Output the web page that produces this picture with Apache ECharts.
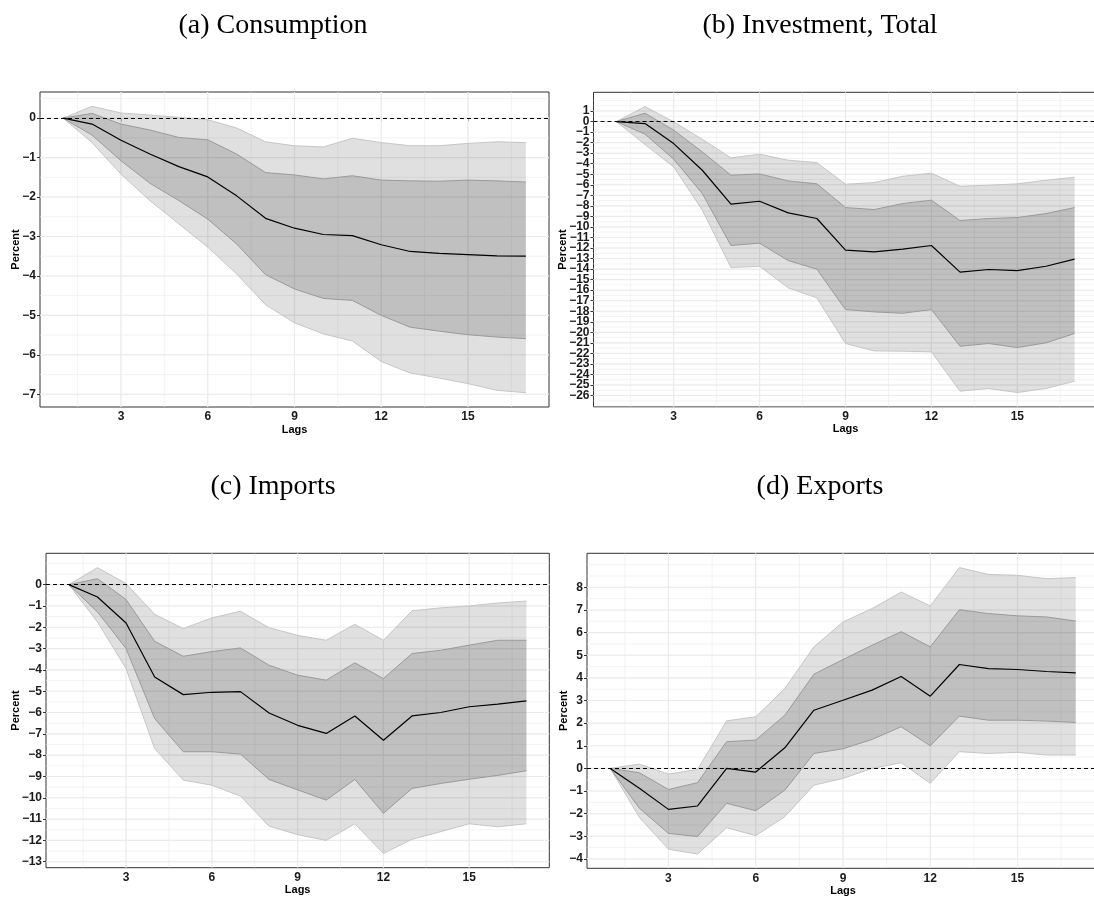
<!DOCTYPE html>
<html><head><meta charset="utf-8">
<script src="https://cdn.jsdelivr.net/npm/echarts@6/dist/echarts.min.js"></script>
<style>html,body{margin:0;padding:0;background:#fff}#c{width:1094px;height:900px}</style>
</head><body><div id="c"></div>
<script>
// ---------- data ----------
const lags = [1,2,3,4,5,6,7,8,9,10,11,12,13,14,15,16,17];
const lagTicks = [3,6,9,12,15];

const titles = ['(a) Consumption', '(b) Investment, Total', '(c) Imports', '(d) Exports'];

const consMean    = [0,-0.15,-0.56,-0.91,-1.23,-1.49,-1.97,-2.54,-2.79,-2.95,-2.98,-3.21,-3.38,-3.43,-3.46,-3.49,-3.50];
const consInnerUp = [0,0.12,-0.15,-0.30,-0.49,-0.55,-0.91,-1.38,-1.44,-1.54,-1.46,-1.57,-1.59,-1.60,-1.57,-1.59,-1.62];
const consInnerLo = [0,-0.43,-1.08,-1.65,-2.09,-2.56,-3.19,-3.97,-4.33,-4.57,-4.62,-5.00,-5.30,-5.40,-5.49,-5.55,-5.59];
const consOuterUp = [0,0.30,0.13,0.08,0.02,-0.04,-0.25,-0.60,-0.70,-0.73,-0.51,-0.62,-0.70,-0.70,-0.64,-0.60,-0.62];
const consOuterLo = [0,-0.62,-1.42,-2.09,-2.68,-3.27,-3.95,-4.73,-5.19,-5.47,-5.65,-6.17,-6.46,-6.59,-6.73,-6.90,-6.96];
const consTicks   = [-7,-6,-5,-4,-3,-2,-1,0];

const invMean    = [0,-0.19,-2.09,-4.62,-7.84,-7.56,-8.67,-9.20,-12.20,-12.37,-12.11,-11.76,-14.29,-14.04,-14.14,-13.73,-13.06];
const invInnerUp = [0,0.79,-0.82,-2.88,-5.09,-4.97,-5.63,-5.91,-8.16,-8.35,-7.78,-7.46,-9.39,-9.20,-9.11,-8.73,-8.16];
const invInnerLo = [0,-1.20,-3.57,-6.83,-11.76,-11.54,-13.19,-14.01,-17.84,-18.06,-18.19,-17.84,-21.32,-21.06,-21.44,-21.00,-20.11];
const invOuterUp = [0,1.42,-0.03,-1.68,-3.45,-3.10,-3.67,-3.89,-5.95,-5.79,-5.19,-4.90,-6.14,-6.04,-5.91,-5.57,-5.28];
const invOuterLo = [0,-2.18,-4.30,-8.41,-13.85,-13.73,-15.78,-16.73,-21.06,-21.76,-21.79,-21.85,-25.58,-25.33,-25.71,-25.33,-24.64];
const invTicks   = [-26,-25,-24,-23,-22,-21,-20,-19,-18,-17,-16,-15,-14,-13,-12,-11,-10,-9,-8,-7,-6,-5,-4,-3,-2,-1,0,1];

const impMean    = [0,-0.58,-1.80,-4.33,-5.16,-5.05,-5.02,-6.02,-6.60,-6.98,-6.16,-7.30,-6.16,-6.00,-5.73,-5.61,-5.45];
const impInnerUp = [0,0.28,-0.70,-2.66,-3.36,-3.14,-2.97,-3.78,-4.25,-4.48,-3.67,-4.41,-3.23,-3.08,-2.84,-2.61,-2.61];
const impInnerLo = [0,-1.28,-3.00,-6.28,-7.84,-7.84,-7.95,-9.14,-9.63,-10.11,-9.14,-10.73,-9.56,-9.33,-9.13,-8.95,-8.73];
const impOuterUp = [0,0.80,0.05,-1.39,-2.06,-1.56,-1.25,-2.02,-2.38,-2.61,-1.86,-2.61,-1.23,-1.09,-1.00,-0.86,-0.77];
const impOuterLo = [0,-1.75,-3.94,-7.69,-9.17,-9.41,-9.92,-11.33,-11.73,-12.00,-11.22,-12.61,-11.95,-11.59,-11.22,-11.36,-11.22];
const impTicks   = [-13,-12,-11,-10,-9,-8,-7,-6,-5,-4,-3,-2,-1,0];

const expMean    = [0,-0.88,-1.81,-1.66,0.00,-0.16,0.91,2.57,3.01,3.46,4.06,3.19,4.59,4.41,4.37,4.28,4.22];
const expInnerUp = [0,-0.19,-0.93,-0.63,1.18,1.25,2.35,4.16,4.81,5.44,6.04,5.37,7.01,6.84,6.74,6.69,6.51];
const expInnerLo = [0,-1.76,-2.87,-3.01,-1.54,-1.87,-0.96,0.66,0.87,1.28,1.84,1.00,2.31,2.13,2.13,2.09,2.03];
const expOuterUp = [0,0.19,-0.25,-0.05,2.10,2.28,3.53,5.37,6.47,7.06,7.79,7.18,8.87,8.57,8.53,8.38,8.43];
const expOuterLo = [0,-2.16,-3.57,-3.78,-2.62,-2.97,-2.13,-0.74,-0.44,0.00,0.25,-0.66,0.74,0.66,0.71,0.59,0.59];
const expTicks   = [-4,-3,-2,-1,0,1,2,3,4,5,6,7,8];

const zeroLine = 0;

// ---------- layout / style ----------
const panels = [
  {mean:consMean, iu:consInnerUp, il:consInnerLo, ou:consOuterUp, ol:consOuterLo, ticks:consTicks,
   grid:{left:40, top:92, width:509, height:315}, nameGap:19, title:{x:273, y:26}},
  {mean:invMean, iu:invInnerUp, il:invInnerLo, ou:invOuterUp, ol:invOuterLo, ticks:invTicks,
   grid:{left:593.5, top:92.3, width:504, height:314.5}, nameGap:25, title:{x:820, y:26}},
  {mean:impMean, iu:impInnerUp, il:impInnerLo, ou:impOuterUp, ol:impOuterLo, ticks:impTicks,
   grid:{left:46, top:553.3, width:503.3, height:314.4}, nameGap:25, title:{x:273, y:487}},
  {mean:expMean, iu:expInnerUp, il:expInnerLo, ou:expOuterUp, ol:expOuterLo, ticks:expTicks,
   grid:{left:587, top:553.3, width:512, height:315}, nameGap:18, title:{x:820, y:487}}
];

const FONT = 'Liberation Sans';
const minus = v => String(v).replace('-', '\u2212');

function limits(arrLo, arrHi) {
  const lo = Math.min(...arrLo), hi = Math.max(...arrHi);
  const p = (hi - lo) * 0.05;
  return [lo - p, hi + p];
}
const xr = limits(lags, lags);

function minorOf(ticks) {
  const d = ticks[1] - ticks[0];
  const ext = [ticks[0] - d].concat(ticks, [ticks[ticks.length - 1] + d]);
  const out = [];
  for (let i = 0; i < ext.length - 1; i++) { out.push(ext[i]); out.push((ext[i] + ext[i + 1]) / 2); }
  out.push(ext[ext.length - 1]);
  return out;
}

const grids = [], xAxes = [], yAxes = [], yAxes2 = [], series = [], graphics = [];

const yLabelStyle = {formatter:minus, showMinLabel:true, showMaxLabel:true, hideOverlap:false,
  fontFamily:FONT, fontWeight:'bold', fontSize:12, color:'#1a1a1a', margin:4};

panels.forEach((P, k) => {
  const yr = limits(P.ol, P.ou);
  grids.push(Object.assign({show:true, borderColor:'#333333', borderWidth:1, backgroundColor:'#ffffff',
    containLabel:false, outerBoundsMode:'none'}, P.grid));
  xAxes.push({type:'value', gridIndex:k, min:xr[0], max:xr[1],
    splitLine:{show:false}, axisLine:{show:false},
    axisTick:{show:true, customValues:lagTicks, length:3, lineStyle:{color:'#333333', width:1}},
    axisLabel:{customValues:lagTicks, showMinLabel:true, showMaxLabel:true, hideOverlap:false,
      fontFamily:FONT, fontWeight:'bold', fontSize:12, color:'#1a1a1a', margin:4},
    name:'Lags', nameLocation:'middle', nameGap:17, nameMoveOverlap:false,
    nameTextStyle:{fontFamily:FONT, fontWeight:'bold', fontSize:11, color:'#000', verticalAlign:'top'}});

  // tick labels split over two coincident axes so that dense labels are never dropped
  const evenTicks = P.ticks.filter((_, i) => i % 2 === 0);
  const oddTicks  = P.ticks.filter((_, i) => i % 2 === 1);
  yAxes.push({type:'value', gridIndex:k, min:yr[0], max:yr[1], position:'left',
    splitLine:{show:false}, axisLine:{show:false},
    axisTick:{show:true, customValues:evenTicks, length:3, lineStyle:{color:'#333333', width:1}},
    axisLabel:Object.assign({customValues:evenTicks}, yLabelStyle),
    name:'Percent', nameLocation:'middle', nameGap:P.nameGap, nameRotate:90, nameMoveOverlap:false,
    nameTextStyle:{fontFamily:FONT, fontWeight:'bold', fontSize:11, color:'#000'}});
  yAxes2.push({type:'value', gridIndex:k, min:yr[0], max:yr[1], position:'left', offset:0,
    splitLine:{show:false}, axisLine:{show:false},
    axisTick:{show:true, customValues:oddTicks, length:3, lineStyle:{color:'#333333', width:1}},
    axisLabel:Object.assign({customValues:oddTicks}, yLabelStyle)});

  const xMinor = minorOf(lagTicks).filter(v => v > xr[0] && v < xr[1]);
  const yMinor = minorOf(P.ticks).filter(v => v > yr[0] && v < yr[1]);
  const xMajor = lagTicks, yMajor = P.ticks;

  // grid lines
  series.push({type:'custom', xAxisIndex:k, yAxisIndex:k, silent:true, z:1, clip:true,
    data:[[xr[0], yr[0]]],
    renderItem(params, api) {
      const kids = [];
      const add = (a, b, w) => kids.push({type:'line', shape:{x1:a[0], y1:a[1], x2:b[0], y2:b[1]},
        style:{stroke:'#EBEBEB', lineWidth:w}});
      yMinor.forEach(v => add(api.coord([xr[0], v]), api.coord([xr[1], v]), 0.6));
      xMinor.forEach(v => add(api.coord([v, yr[0]]), api.coord([v, yr[1]]), 0.6));
      yMajor.forEach(v => add(api.coord([xr[0], v]), api.coord([xr[1], v]), 1.1));
      xMajor.forEach(v => add(api.coord([v, yr[0]]), api.coord([v, yr[1]]), 1.1));
      return {type:'group', children:kids};
    }});

  const band = (up, lo, fill, stroke, z) => ({type:'custom', xAxisIndex:k, yAxisIndex:k, silent:true, z:z, clip:true,
    data: lags.map((l, i) => [l, up[i], lo[i]]),
    encode:{x:0, y:[1, 2]},
    renderItem(params, api) {
      if (params.dataIndexInside !== 0) return null;
      const n = params.dataInsideLength;
      const top = [], bot = [];
      for (let i = 0; i < n; i++) {
        top.push(api.coord([api.value(0, i), api.value(1, i)]));
        bot.push(api.coord([api.value(0, i), api.value(2, i)]));
      }
      return {type:'group', children:[
        {type:'polygon', shape:{points: top.concat(bot.slice().reverse())}, style:{fill:fill}},
        {type:'polyline', shape:{points: top}, style:{fill:null, stroke:stroke, lineWidth:1}},
        {type:'polyline', shape:{points: bot}, style:{fill:null, stroke:stroke, lineWidth:1}}
      ]};
    }});
  series.push(band(P.ou, P.ol, 'rgba(0,0,0,0.12)', '#c6c6c6', 2));
  series.push(band(P.iu, P.il, 'rgba(0,0,0,0.14)', '#9a9a9a', 3));

  series.push({type:'line', xAxisIndex:k, yAxisIndex:k, z:5, silent:true,
    data: lags.map((l, i) => [l, P.mean[i]]),
    symbol:'none', lineStyle:{color:'#000', width:1.2},
    markLine:{silent:true, symbol:'none', label:{show:false},
      lineStyle:{color:'#000', width:1, type:[4, 3]},
      data:[{yAxis: zeroLine}]}});

  graphics.push({type:'text', x:P.title.x, y:P.title.y, silent:true,
    style:{text:titles[k], fontFamily:'Liberation Serif', fontSize:28, fill:'#000', align:'center', verticalAlign:'middle'}});
});

const chart = echarts.init(document.getElementById('c'), null, {renderer:'canvas'});
chart.setOption({
  animation:false,
  backgroundColor:'#ffffff',
  textStyle:{fontFamily:FONT},
  grid:grids, xAxis:xAxes, yAxis:yAxes.concat(yAxes2), series:series, graphic:graphics
});
</script>
</body></html>
